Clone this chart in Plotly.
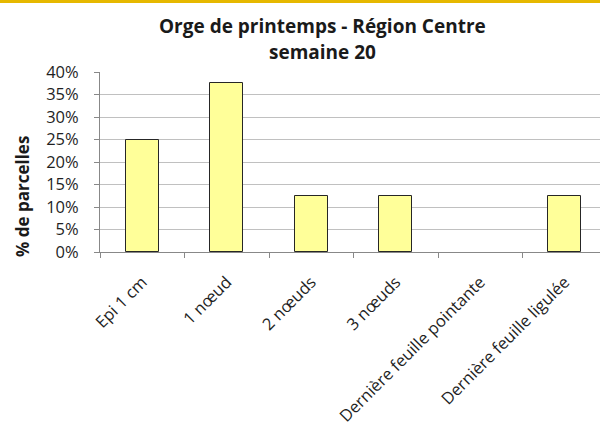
import plotly.graph_objects as go

categories = ["Epi 1 cm", "1 nœud", "2 nœuds", "3 nœuds",
              "Dernière feuille pointante", "Dernière feuille ligulée"]
values = [0.25, 0.375, 0.125, 0.125, 0.0, 0.125]
title_lines = ["Orge de printemps - Région Centre", "semaine 20"]
y_title = "% de parcelles"

outline_widths = [1 if v > 0 else 0 for v in values]

fig = go.Figure(go.Bar(
    x=categories, y=values,
    marker=dict(color="#FFFF99", line=dict(color="#262626", width=outline_widths)),
    width=0.39,
))

fig.update_layout(
    width=600, height=428,
    margin=dict(l=100, r=0, t=72, b=176),
    paper_bgcolor="white", plot_bgcolor="white",
    font=dict(family="Open Sans, Liberation Sans, sans-serif", color="#262626"),
    showlegend=False,
    bargap=0,
)
for line, ypos in zip(title_lines, [1 + 46 / 180, 1 + 20 / 180]):
    fig.add_annotation(text="<b>" + line + "</b>", xref="paper", yref="paper",
                       x=(322 - 100) / 500, y=ypos, xanchor="center", yanchor="middle",
                       showarrow=False, font=dict(size=19, color="#1a1a1a"))
fig.add_annotation(text="<b>" + y_title + "</b>", xref="paper", yref="paper",
                   x=(22 - 100) / 500, y=(252 - 197) / 180, textangle=-90,
                   xanchor="center", yanchor="middle", showarrow=False,
                   font=dict(size=17, color="#1a1a1a"))
fig.update_xaxes(
    type="category", range=[-0.5, 5.417],
    tickson="boundaries", ticks="outside", ticklen=5, tickcolor="#888",
    showline=True, linecolor="#888", linewidth=1,
    tickangle=-45, tickfont=dict(size=16.5, color="#1f1f1f"),
    ticklabelstandoff=13,
    showgrid=False,
)
fig.update_yaxes(
    range=[0, 0.4], dtick=0.05, tickformat=".0%",
    ticks="outside", ticklen=5, tickcolor="#888",
    showline=True, linecolor="#888", linewidth=1,
    showgrid=True, gridcolor="#C0C0C0", gridwidth=1,
    tickfont=dict(size=16.5, color="#1f1f1f"),
    ticklabelstandoff=12,
    zeroline=False,
)
fig.add_shape(type="line", xref="paper", yref="paper", x0=-0.25, x1=1.05,
              y0=1 + 70.5 / 180, y1=1 + 70.5 / 180,
              line=dict(color="#E6B800", width=3))
fig.write_html("out.html", config={"displayModeBar": False},
               post_script="document.body.style.margin='0';")
